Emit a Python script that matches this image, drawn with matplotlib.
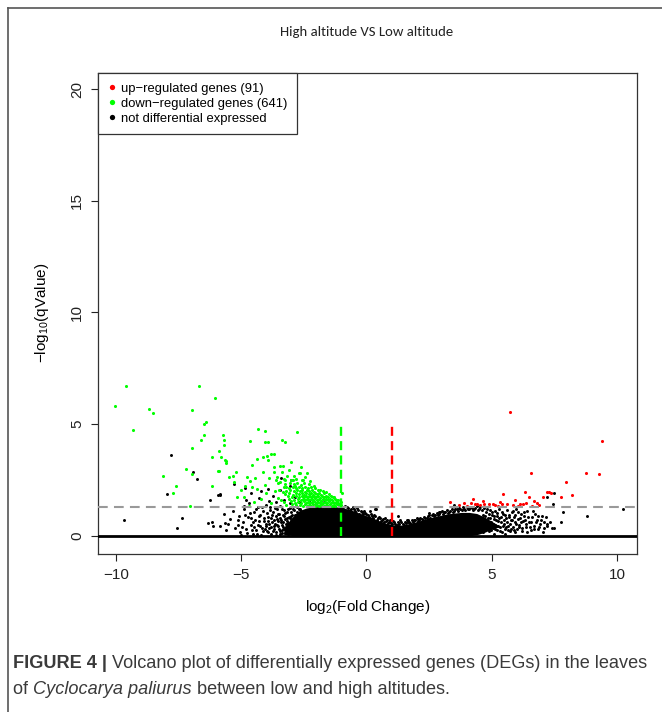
import matplotlib
matplotlib.use("Agg")
import matplotlib.pyplot as plt
from matplotlib.lines import Line2D
from matplotlib import font_manager

# ---------------- data ----------------
# dense, saturated core of non-differential genes: envelope per log2FC
core_x = [-3.3, -3.0, -2.7, -2.4, -2.1, -1.8, -1.5, -1.2, -1.0, -0.7, -0.4, -0.1, 0.2, 0.5, 0.8,
          1.1, 1.4, 1.7, 2.0, 2.3, 2.6, 2.9, 3.2, 3.5, 3.8, 4.1, 4.4, 4.7, 5.0, 5.3]
core_top = [0.35, 0.80, 1.12, 1.25, 1.30, 1.30, 1.30, 1.30, 1.28, 1.18, 1.06, 0.94, 0.82, 0.68, 0.56,
            0.48, 0.48, 0.55, 0.64, 0.73, 0.83, 0.90, 0.98, 1.02, 1.05, 1.05, 1.00, 0.85, 0.65, 0.45]
core_bot = [0.05, 0.02, 0, 0, 0, 0, 0, 0, 0, 0, 0, 0, 0, 0, 0,
            0, 0, 0, 0, 0, 0, 0, 0, 0, 0, 0, 0.05, 0.15, 0.30, 0.40]

# individual non-differential genes (log2FC, -log10 q)
black_pts = [
    (-9.68, 0.69), (-7.55, 0.36), (-7.36, 0.81), (-7.82, 3.64), (-7.95, 1.88), (-6.94, 2.86),
    (-6.78, 2.53), (-6.33, 0.57), (-6.12, 0.42), (-5.85, 0.42), (-6.25, 1.61), (-5.94, 1.82),
    (-5.86, 1.88), (-5.29, 2.30), (-6.17, 0.63), (-5.65, 0.58),
    (-5.25, 0.35), (-5.10, 0.90), (-5.05, 0.15), (-4.95, 0.60), (-4.90, 1.20), (-4.82, 0.30),
    (-4.75, 0.85), (-4.70, 1.45), (-4.62, 0.50), (-4.55, 0.10), (-4.50, 1.05), (-4.45, 0.70),
    (-4.40, 0.25), (-4.35, 1.30), (-4.30, 0.90), (-4.25, 0.45), (-4.20, 0.05), (-4.15, 1.10),
    (-4.10, 0.65), (-4.05, 0.30), (-4.00, 1.40), (-3.95, 0.85), (-3.92, 0.15), (-3.88, 0.55),
    (-3.85, 1.15), (-3.80, 0.40), (-3.76, 0.95), (-3.72, 0.20), (-3.68, 0.70), (-3.64, 1.25),
    (-3.60, 0.05), (-3.57, 0.50), (-3.54, 1.00), (-3.50, 0.30), (-3.47, 0.80), (-3.44, 1.35),
    (-3.41, 0.60), (-3.38, 0.12), (-3.35, 0.95), (-3.32, 0.40), (-3.29, 1.15), (-3.26, 0.75),
    (-3.23, 0.25), (-3.20, 0.55), (-3.17, 1.05), (-3.14, 0.08), (-3.11, 0.85), (-3.08, 0.35),
    (-3.05, 1.25), (-3.02, 0.65), (-2.99, 0.18), (-2.96, 0.95), (-2.93, 0.45), (-2.90, 1.15),
    (-2.87, 0.75), (-2.84, 0.28), (-2.81, 0.55), (-2.78, 1.30), (-2.75, 0.05), (-2.72, 0.90),
    (-2.69, 0.40), (-2.66, 1.20), (-2.63, 0.70), (-2.60, 0.20),
    (-5.60, 0.25), (-5.45, 0.75), (-5.35, 1.10), (-5.70, 1.00), (-5.55, 0.55), (-5.15, 0.50),
    (-5.00, 0.05), (-4.85, 0.95), (-4.60, 0.80), (-4.48, 0.40), (-4.28, 0.65), (-4.18, 0.35),
    (-4.02, 0.55), (-3.98, 0.20), (-3.83, 0.80), (-3.70, 0.45), (-3.62, 0.90), (-3.52, 0.65),
    (-3.46, 0.20), (-3.36, 0.50), (-3.28, 0.30), (-3.18, 0.80), (-3.10, 0.50), (-3.03, 0.90),
    (-2.95, 0.60), (-2.88, 0.35), (-2.80, 0.95), (-2.70, 0.60),
    (-5.12, 0.72), (-4.98, 0.38), (-4.88, 1.32), (-4.79, 0.12), (-4.66, 1.02), (-4.58, 0.28),
    (-4.52, 0.62), (-4.43, 1.18), (-4.37, 0.08), (-4.33, 0.47), (-4.24, 0.92), (-4.19, 1.28),
    (-4.12, 0.22), (-4.08, 0.81), (-4.03, 0.43), (-3.97, 1.02), (-3.93, 0.68), (-3.89, 0.33),
    (-3.86, 1.27), (-3.81, 0.09), (-3.78, 0.62), (-3.74, 1.08), (-3.71, 0.31), (-3.66, 0.52),
    (-3.63, 0.18), (-3.59, 0.76), (-3.56, 1.18), (-3.53, 0.42), (-3.49, 0.98), (-3.45, 0.07),
    (-3.42, 0.71), (-3.39, 0.28), (-3.37, 1.22), (-3.33, 0.62), (-3.31, 0.88), (-3.27, 0.14),
    (-3.24, 1.02), (-3.21, 0.38), (-3.19, 0.68), (-3.16, 0.24), (-3.13, 1.18), (-3.12, 0.58),
    (-3.09, 0.12), (-3.06, 0.78), (-3.04, 0.42), (-3.01, 1.05), (-2.98, 0.28), (-2.97, 0.72),
    (-2.94, 1.21), (-2.92, 0.08), (-2.89, 0.52), (-2.86, 0.92), (-2.83, 0.15), (-2.82, 0.68),
    (-2.79, 0.38), (-2.77, 1.08), (-2.74, 0.25), (-2.73, 0.78), (-2.71, 1.22), (-2.68, 0.12),
    (-2.67, 0.55), (-2.64, 0.92), (-2.62, 0.35), (-2.61, 1.12),
    (-4.80, 1.60), (-4.30, 1.70), (-3.90, 1.55), (-3.60, 1.50), (-3.30, 1.60), (-3.05, 1.45),
    (-2.70, 1.50), (-2.30, 1.55), (-2.00, 1.45), (-1.70, 1.50), (-2.50, 1.80), (-2.85, 1.75),
    (-4.60, 1.90), (-4.20, 2.00), (-3.75, 1.80), (-5.85, 1.85), (-4.84, 2.15), (-3.40, 2.57),
    (-3.00, 2.50), (-3.05, 2.24), (-3.95, 2.10), (-3.47, 2.06),
    (-0.95, 1.20), (-0.85, 1.32), (-0.80, 1.10), (-0.72, 1.25), (-0.65, 1.15), (-0.58, 1.05),
    (-0.50, 1.20), (-0.45, 1.10), (-0.39, 1.24), (-0.30, 1.00), (-0.22, 1.10), (-0.15, 0.98),
    (-0.05, 1.02), (0.05, 0.92), (0.14, 1.09), (0.22, 0.88), (0.30, 0.95), (0.38, 1.19),
    (0.35, 1.21), (0.45, 0.78), (0.55, 0.80), (0.62, 0.70), (0.74, 0.79), (0.81, 0.72),
    (0.90, 0.62), (0.98, 0.58), (1.05, 0.66), (1.15, 0.55), (1.24, 0.90), (1.25, 0.60),
    (1.34, 0.72), (1.45, 0.55), (1.52, 0.62), (1.60, 0.72), (1.67, 0.72), (1.70, 0.64),
    (1.80, 0.70), (1.90, 0.69), (2.00, 0.79), (2.04, 0.76), (2.10, 0.72), (2.20, 0.75),
    (2.30, 0.85), (2.40, 0.80), (2.50, 0.92), (2.50, 1.02), (2.60, 0.95), (2.70, 0.90),
    (2.80, 1.02), (2.88, 1.05), (2.90, 0.98), (3.00, 1.10), (3.10, 1.05), (3.20, 1.15),
    (3.30, 1.08), (3.40, 1.20), (3.50, 1.12), (3.51, 1.38), (3.60, 1.18), (3.70, 1.25),
    (3.80, 1.15), (3.90, 1.22), (4.00, 1.30), (4.10, 1.18), (4.20, 1.26), (4.30, 1.20),
    (4.40, 1.32), (4.50, 1.22), (4.60, 1.15), (4.70, 1.25),
    (-0.90, 1.05), (-0.76, 1.30), (-0.62, 1.22), (-0.55, 1.28), (-0.42, 1.02), (-0.35, 1.14),
    (-0.26, 0.94), (-0.18, 1.05), (-0.10, 1.12), (0.00, 0.98), (0.09, 0.86), (0.18, 0.96),
    (0.26, 0.82), (0.33, 0.90), (0.42, 0.72), (0.50, 0.85), (0.58, 0.66), (0.66, 0.74),
    (0.70, 0.60), (0.78, 0.65), (0.86, 0.56), (0.94, 0.70), (1.02, 0.52), (1.10, 0.60),
    (1.20, 0.50), (1.30, 0.55), (1.38, 0.62), (1.48, 0.50), (1.56, 0.58), (1.64, 0.60),
    (1.74, 0.58), (1.84, 0.62), (1.95, 0.72), (2.06, 0.68), (2.15, 0.80), (2.25, 0.70),
    (2.35, 0.78), (2.45, 0.88), (2.55, 0.82), (2.65, 1.00), (2.75, 0.92), (2.85, 0.95),
    (2.95, 1.05), (3.05, 0.98), (3.15, 1.08), (3.25, 1.02), (3.35, 1.12), (3.45, 1.05),
    (3.55, 1.22), (3.65, 1.10), (3.75, 1.18), (3.85, 1.30), (3.95, 1.15), (4.05, 1.20),
    (4.15, 1.28), (4.25, 1.14), (4.35, 1.25), (4.45, 1.15), (4.55, 1.28),
    (4.65, 0.95), (4.70, 0.60), (4.72, 0.30), (4.78, 1.05), (4.82, 0.45), (4.86, 0.80),
    (4.90, 0.20), (4.93, 1.15), (4.97, 0.60), (5.00, 0.95), (5.04, 0.35), (5.08, 0.75),
    (5.12, 1.10), (5.15, 0.50), (5.20, 0.25), (5.23, 0.90), (5.27, 0.65), (5.30, 1.20),
    (5.34, 0.40), (5.38, 0.85), (5.42, 0.15), (5.45, 1.00), (5.50, 0.55), (5.53, 0.30),
    (5.57, 0.80), (5.60, 1.15), (5.65, 0.45), (5.68, 0.95), (5.72, 0.20), (5.76, 0.70),
    (5.80, 1.05), (5.85, 0.40), (5.88, 0.85), (5.92, 0.60), (5.97, 1.20), (6.00, 0.30),
    (6.05, 0.75), (6.10, 0.50), (6.15, 1.00), (6.20, 0.20), (6.25, 0.65), (6.30, 0.90),
    (6.36, 0.40), (6.42, 1.10), (6.48, 0.60), (6.55, 0.25), (6.60, 0.85), (6.67, 0.45),
    (6.72, 1.00), (6.80, 0.70), (6.85, 0.30), (6.92, 0.55), (7.00, 0.90), (7.05, 0.18),
    (7.10, 0.34), (7.19, 0.54), (7.22, 0.46), (7.33, 0.61), (7.41, 0.34), (7.49, 0.36),
    (6.40, 0.15), (5.95, 0.15), (5.55, 0.10), (5.10, 0.10),
    (4.62, 0.72), (4.67, 0.18), (4.74, 0.88), (4.76, 0.42), (4.80, 1.18), (4.84, 0.62),
    (4.88, 0.98), (4.91, 0.38), (4.95, 0.82), (4.99, 0.28), (5.02, 1.08), (5.06, 0.55),
    (5.10, 0.88), (5.14, 0.32), (5.17, 0.72), (5.21, 1.02), (5.25, 0.45), (5.29, 0.82),
    (5.32, 0.22), (5.36, 0.62), (5.40, 1.08), (5.44, 0.42), (5.48, 0.72), (5.52, 0.95),
    (5.56, 0.38), (5.62, 0.62), (5.66, 0.25), (5.70, 0.85), (5.74, 0.52), (5.78, 0.32),
    (5.83, 0.72), (5.87, 1.12), (5.90, 0.28), (5.94, 0.92), (5.99, 0.52), (6.03, 1.05),
    (6.08, 0.38), (6.12, 0.82), (6.18, 0.62), (6.22, 0.35), (6.28, 1.08), (6.33, 0.70),
    (6.38, 0.52), (6.45, 0.85), (6.52, 0.40), (6.58, 0.62), (6.63, 1.12), (6.70, 0.32),
    (6.76, 0.60), (6.83, 0.90), (6.90, 0.40), (6.97, 0.70), (7.08, 0.62), (7.15, 0.85),
    (7.46, 1.43), (7.22, 1.73), (7.49, 1.94), (7.86, 1.07), (7.78, 0.64), (8.82, 0.89),
    (10.23, 1.20),
]

# down-regulated genes (log2FC, -log10 q)
green_pts = [
    (-9.60, 6.71), (-6.67, 6.71), (-10.03, 5.79), (-8.70, 5.67), (-8.51, 5.52), (-6.98, 5.63),
    (-6.06, 6.17), (-9.33, 4.74), (-6.41, 5.09), (-6.49, 5.01), (-6.49, 4.52), (-6.62, 4.30),
    (-6.97, 3.94), (-5.74, 4.52), (-5.71, 4.27), (-5.68, 4.05), (-5.90, 3.82), (-6.17, 3.52),
    (-5.82, 3.52), (-5.66, 3.40), (-5.61, 3.28), (-5.93, 2.91), (-7.21, 2.98), (-6.97, 2.78),
    (-8.11, 2.67), (-7.60, 2.22), (-7.74, 1.91), (-6.17, 2.24), (-7.06, 1.34), (-4.33, 4.77),
    (-4.06, 4.71), (-4.65, 4.24), (-4.06, 4.22), (-3.95, 4.22), (-3.39, 4.27), (-3.24, 4.22),
    (-2.76, 4.65), (-3.69, 3.67), (-3.83, 3.67), (-3.99, 3.58), (-4.15, 3.52), (-4.38, 3.45),
    (-3.93, 3.40), (-4.57, 3.16), (-3.71, 3.07), (-3.45, 3.13), (-3.35, 3.13), (-5.50, 2.63),
    (-5.34, 2.68), (-5.23, 2.85), (-5.31, 2.42), (-3.08, 2.94), (-3.37, 2.85), (-2.71, 2.83),
    (-2.39, 2.83), (-4.77, 2.65), (-4.64, 2.47), (-5.63, 3.37), (-5.90, 2.89),
    (-5.17, 1.76), (-4.90, 1.76), (-5.03, 2.06), (-4.84, 2.21), (-4.57, 2.18), (-4.39, 2.09),
    (-4.06, 2.28), (-3.90, 2.57), (-3.58, 2.63), (-3.18, 2.68), (-3.45, 2.39), (-3.24, 2.51),
    (-2.95, 2.51), (-2.66, 2.80), (-2.52, 2.51), (-2.87, 2.22), (-4.50, 1.50), (-4.20, 1.65),
    (-4.70, 1.35), (-3.80, 1.45), (-4.00, 1.90), (-3.65, 2.00), (-3.35, 1.95), (-3.55, 1.70),
    (-3.20, 2.20), (-4.45, 2.60), (-4.15, 2.85), (-3.70, 2.85), (-3.00, 3.30), (-2.60, 3.10),
    (-2.90, 2.70), (-2.45, 2.65), (-2.25, 2.45), (-2.10, 2.25), (-1.85, 2.05), (-1.60, 1.95),
    (-1.35, 1.75), (-1.15, 1.60), (-0.99, 1.91), (-1.00, 1.53), (-1.02, 1.38),
    (-1.08, 1.36), (-1.16, 1.41), (-1.24, 1.34), (-1.31, 1.39), (-1.39, 1.33), (-1.46, 1.42),
    (-1.53, 1.35), (-1.61, 1.38), (-1.68, 1.33), (-1.76, 1.41), (-1.83, 1.36), (-1.91, 1.34),
    (-1.98, 1.40), (-2.06, 1.35), (-2.13, 1.42), (-2.21, 1.33), (-2.29, 1.38), (-2.37, 1.35),
    (-2.46, 1.41), (-2.55, 1.34), (-2.66, 1.39), (-2.80, 1.36), (-2.96, 1.42), (-3.20, 1.37),
    (-1.12, 1.48), (-1.20, 1.53), (-1.28, 1.46), (-1.35, 1.51), (-1.43, 1.47), (-1.50, 1.55),
    (-1.58, 1.49), (-1.65, 1.52), (-1.72, 1.46), (-1.80, 1.54), (-1.87, 1.48), (-1.94, 1.52),
    (-2.02, 1.47), (-2.09, 1.55), (-2.17, 1.50), (-2.25, 1.46), (-2.33, 1.53), (-2.41, 1.48),
    (-2.50, 1.54), (-2.60, 1.47), (-2.72, 1.52), (-2.86, 1.49), (-3.02, 1.55), (-3.30, 1.50),
    (-1.18, 1.62), (-1.27, 1.66), (-1.36, 1.60), (-1.44, 1.65), (-1.52, 1.59), (-1.60, 1.67),
    (-1.67, 1.61), (-1.75, 1.64), (-1.82, 1.58), (-1.90, 1.66), (-1.97, 1.61), (-2.05, 1.68),
    (-2.12, 1.60), (-2.20, 1.65), (-2.28, 1.59), (-2.36, 1.67), (-2.45, 1.62), (-2.53, 1.66),
    (-2.63, 1.60), (-2.75, 1.65), (-2.90, 1.62), (-3.10, 1.67), (-3.40, 1.62),
    (-1.30, 1.74), (-1.42, 1.78), (-1.55, 1.72), (-1.63, 1.79), (-1.71, 1.73), (-1.79, 1.77),
    (-1.86, 1.71), (-1.94, 1.80), (-2.01, 1.74), (-2.09, 1.78), (-2.17, 1.72), (-2.25, 1.79),
    (-2.33, 1.73), (-2.41, 1.77), (-2.50, 1.72), (-2.59, 1.79), (-2.70, 1.74), (-2.83, 1.78),
    (-2.98, 1.73), (-3.15, 1.80),
    (-1.50, 1.86), (-1.68, 1.90), (-1.80, 1.84), (-1.90, 1.92), (-1.99, 1.86), (-2.07, 1.90),
    (-2.15, 1.84), (-2.23, 1.93), (-2.31, 1.87), (-2.40, 1.91), (-2.49, 1.85), (-2.58, 1.92),
    (-2.68, 1.87), (-2.80, 1.91), (-2.94, 1.85), (-3.08, 1.92), (-3.25, 1.88),
    (-1.75, 2.00), (-1.95, 2.03), (-2.08, 1.98), (-2.18, 2.05), (-2.28, 1.99), (-2.38, 2.04),
    (-2.47, 1.98), (-2.56, 2.06), (-2.66, 2.00), (-2.77, 2.04), (-2.90, 1.99), (-3.04, 2.05),
    (-3.22, 2.00), (-3.50, 2.03),
    (-2.05, 2.14), (-2.22, 2.18), (-2.35, 2.12), (-2.46, 2.19), (-2.58, 2.13), (-2.69, 2.18),
    (-2.80, 2.12), (-2.93, 2.19), (-3.08, 2.14), (-3.30, 2.17),
    (-2.30, 2.30), (-2.48, 2.36), (-2.62, 2.28), (-2.76, 2.35), (-2.90, 2.30), (-3.05, 2.38),
    (-3.25, 2.32), (-3.55, 2.36),
    (-2.58, 2.50), (-2.80, 2.56), (-3.02, 2.48), (-3.30, 2.55), (-3.60, 2.50),
]

# up-regulated genes (log2FC, -log10 q)
red_pts = [
    (5.73, 5.56), (9.40, 4.25), (6.57, 2.80), (8.76, 2.80), (9.27, 2.76), (7.97, 2.40),
    (6.31, 1.98), (5.44, 1.88), (7.22, 1.98), (7.30, 1.96), (7.38, 1.91), (7.03, 1.75),
    (8.20, 1.81), (7.76, 1.75), (6.49, 1.75), (6.70, 1.58), (6.79, 1.46), (3.35, 1.50),
    (4.26, 1.64), (4.16, 1.47), (4.64, 1.58), (4.32, 1.42), (4.42, 1.42), (4.53, 1.38),
    (4.69, 1.43), (4.90, 1.42), (5.04, 1.42), (5.14, 1.39), (5.33, 1.53), (5.41, 1.44),
    (5.60, 1.43), (5.94, 1.61), (6.13, 1.44), (6.23, 1.42), (6.37, 1.49), (6.87, 1.37),
    (3.90, 1.45), (3.70, 1.36), (4.00, 1.33), (5.25, 1.35), (5.85, 1.36), (6.05, 1.34),
    (6.60, 1.33),
]

legend_labels = ["up\u2212regulated genes (91)", "down\u2212regulated genes (641)",
                 "not differential expressed"]
x_ticks = [-10, -5, 0, 5, 10]
y_ticks = [0, 5, 10, 15, 20]
fc_cut = [-1, 1]
q_cut = 1.301          # -log10(0.05)
title_text = "High altitude VS Low altitude"
caption_bold = "FIGURE 4 |"
caption_l1 = "Volcano plot of differentially expressed genes (DEGs) in the leaves"
caption_l2a = "of "
caption_l2b = "Cyclocarya paliurus"
caption_l2c = " between low and high altitudes."

# ---------------- styling ----------------
avail = {f.name for f in font_manager.fontManager.ttflist}
def pick(*names):
    for n in names:
        if n in avail:
            return n
    return "DejaVu Sans"

SANS = pick("Liberation Sans", "Arial", "DejaVu Sans")
CAP = pick("Liberation Sans Narrow", "Liberation Sans")
TITLE = pick("Carlito", "Lato", "Open Sans")

plt.rcParams["font.family"] = [SANS, "DejaVu Sans"]
plt.rcParams["mathtext.fontset"] = "custom"
plt.rcParams["mathtext.rm"] = SANS
plt.rcParams["mathtext.it"] = SANS + ":italic"
plt.rcParams["lines.scale_dashes"] = False

W, H = 662, 712
fig = plt.figure(figsize=(W / 100, H / 100), dpi=100)
L, R, T, B = 98.3, 636.7, 72.7, 553.5
ax = fig.add_axes([L / W, 1 - B / H, (R - L) / W, (B - T) / H])
ax.set_xlim(-10.71, 10.79)
ax.set_ylim(-0.79, 20.73)

ax.fill_between(core_x, core_bot, core_top, color="black", lw=0, zorder=1)
bx = [p[0] for p in black_pts]
by = [p[1] for p in black_pts]
gx = [p[0] for p in green_pts]
gy = [p[1] for p in green_pts]
rx = [p[0] for p in red_pts]
ry = [p[1] for p in red_pts]
ax.scatter(bx, by, s=4.6, c="black", lw=0, zorder=2)
ax.scatter(gx, gy, s=5.0, c="#00ff00", lw=0, zorder=3)
ax.scatter(rx, ry, s=5.0, c="#ff0000", lw=0, zorder=3)

ax.axhline(0, color="black", lw=2.0, zorder=4)
ax.axhline(q_cut, color="#999999", lw=1.5, ls=(0, (7, 4.5)), zorder=4)
ax.vlines([fc_cut[0]], 0, 5, colors="#00ff00", lw=1.7, linestyles=[(0, (6.5, 3.8))], zorder=5)
ax.vlines([fc_cut[1]], 0, 5, colors="#ff0000", lw=1.7, linestyles=[(0, (6.5, 3.8))], zorder=5)

ax.set_xticks(x_ticks)
ax.set_xticklabels([str(v).replace("-", "\u2212") for v in x_ticks])
ax.set_yticks(y_ticks)
ax.set_yticklabels([str(v) for v in y_ticks], rotation=90, va="center")
ax.tick_params(direction="out", length=5.2, width=0.8, labelsize=11, colors="#222222")
ax.tick_params(axis="x", pad=5)
ax.tick_params(axis="y", pad=5)
for s in ax.spines.values():
    s.set_color("#333333")
    s.set_linewidth(0.9)

ax.set_xlabel(r"$\mathrm{log}_{2}\mathrm{(Fold\ Change)}$", fontsize=11, labelpad=12)
ax.set_ylabel(r"$-\mathrm{log}_{10}\mathrm{(qValue)}$", fontsize=11, labelpad=14)

handles = [Line2D([], [], ls="none", marker="o", ms=3.8, mec="none", mfc=c)
           for c in ("#ff0000", "#00ff00", "black")]
leg = ax.legend(handles, legend_labels, loc="upper left", bbox_to_anchor=(0, 1),
                borderaxespad=0, frameon=True, fancybox=False, edgecolor="#333333",
                framealpha=1, fontsize=9.4, handlelength=0.6, handletextpad=0.4,
                labelspacing=0.22, borderpad=0.75)
leg.get_frame().set_linewidth(0.9)

fig.text(366.5 / W, 1 - 32 / H, title_text, family=[TITLE, "DejaVu Sans"], fontsize=10.6,
         ha="center", va="center", color="#222222")

# outer page frame
fig.add_artist(Line2D([8 / W, 1], [1 - 8 / H, 1 - 8 / H], transform=fig.transFigure,
                      color="#555555", lw=1.2))
fig.add_artist(Line2D([8 / W, 8 / W], [1 - 8 / H, 0], transform=fig.transFigure,
                      color="#555555", lw=1.2))

# caption
renderer = fig.canvas.get_renderer()
capcol = "#3a3a3a"
x0 = 13
target = 650 - 13
size = 12.0
for _ in range(3):
    tr = fig.text(0, 0, caption_l1, family=[CAP, SANS], fontsize=size)
    sp = fig.text(0, 0, "a a", family=[CAP, SANS], fontsize=size)
    sa = fig.text(0, 0, "aa", family=[CAP, SANS], fontsize=size)
    tb = fig.text(0, 0, caption_bold, family=[CAP, SANS], fontsize=size, fontweight="bold")
    wsp = sp.get_window_extent(renderer).width - sa.get_window_extent(renderer).width
    total = tb.get_window_extent(renderer).width + wsp + tr.get_window_extent(renderer).width
    for t in (tr, sp, sa, tb):
        t.remove()
    size = size * target / total

def put(x, y, s, **kw):
    t = fig.text(x / W, 1 - y / H, s, family=[CAP, SANS], fontsize=size, va="baseline",
                 color=capcol, **kw)
    return t.get_window_extent(renderer).width

sp = fig.text(0, 0, "a a", family=[CAP, SANS], fontsize=size)
sa = fig.text(0, 0, "aa", family=[CAP, SANS], fontsize=size)
wsp = sp.get_window_extent(renderer).width - sa.get_window_extent(renderer).width
sp.remove(); sa.remove()

y1, y2 = 668, 694
w = put(x0, y1, caption_bold, fontweight="bold")
put(x0 + w + wsp, y1, caption_l1)
w = put(x0, y2, caption_l2a)
w2 = put(x0 + w, y2, caption_l2b, style="italic")
put(x0 + w + w2, y2, caption_l2c)

fig.savefig("out.png", dpi=100)
